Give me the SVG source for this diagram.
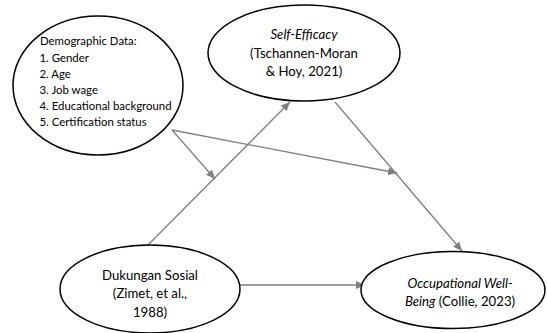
<svg xmlns="http://www.w3.org/2000/svg" width="547" height="333" viewBox="0 0 547 333">
<style>
.node ellipse{fill:#fff;stroke:#000;stroke-width:1.5}
.t{font-family:Lato,"Open Sans","Liberation Sans",sans-serif;font-size:13.2px;fill:#000}
.s{font-family:Lato,"Open Sans","Liberation Sans",sans-serif;font-size:11.4px;fill:#000}
.c{text-anchor:middle}
.i{font-style:italic}
.edge{stroke:#7f7f7f;stroke-width:1.3;fill:none;marker-end:url(#ah)}
</style>
<defs>
<marker id="ah" markerUnits="userSpaceOnUse" markerWidth="10" markerHeight="9" refX="9" refY="4" orient="auto">
<path d="M0,0 L9,4 L0,8 z" fill="#7f7f7f"/>
</marker>
</defs>
<rect width="547" height="333" fill="#fff"/>
<g id="connectors">
<line class="edge" x1="148" y1="245" x2="290" y2="102"/>
<line class="edge" x1="335" y1="102" x2="462" y2="251"/>
<line class="edge" x1="240" y1="285" x2="365" y2="285"/>
<line class="edge" x1="172" y1="130" x2="215" y2="179"/>
<line class="edge" x1="172" y1="130" x2="397" y2="173"/>
</g>
<g id="demographic" class="node">
<ellipse cx="98" cy="85.5" rx="85" ry="69.5"/>
<text class="s" x="40" y="45">Demographic Data:</text>
<text class="s" x="39.5" y="61.5">1. Gender</text>
<text class="s" x="39.5" y="77.5">2. Age</text>
<text class="s" x="39.5" y="94">3. Job wage</text>
<text class="s" x="39.5" y="110">4. Educational background</text>
<text class="s" x="39.5" y="126">5. Certification status</text>
</g>
<g id="self-efficacy" class="node">
<ellipse cx="304" cy="53" rx="96" ry="48"/>
<text class="t c i" x="304" y="38.5">Self-Efficacy</text>
<text class="t c" x="304" y="57.5">(Tschannen-Moran</text>
<text class="t c" x="304" y="76">&amp; Hoy, 2021)</text>
</g>
<g id="dukungan" class="node">
<ellipse cx="150" cy="289" rx="90" ry="44"/>
<text class="t c" x="150" y="279.5">Dukungan Sosial</text>
<text class="t c" x="150" y="298">(Zimet, et al.,</text>
<text class="t c" x="150" y="316.5">1988)</text>
</g>
<g id="occupational" class="node">
<ellipse cx="453" cy="290" rx="92" ry="38.5"/>
<text class="t c i" x="460" y="288">Occupational Well-</text>
<text class="t c" x="460" y="306"><tspan class="i">Being</tspan> (Collie, 2023)</text>
</g>
</svg>
